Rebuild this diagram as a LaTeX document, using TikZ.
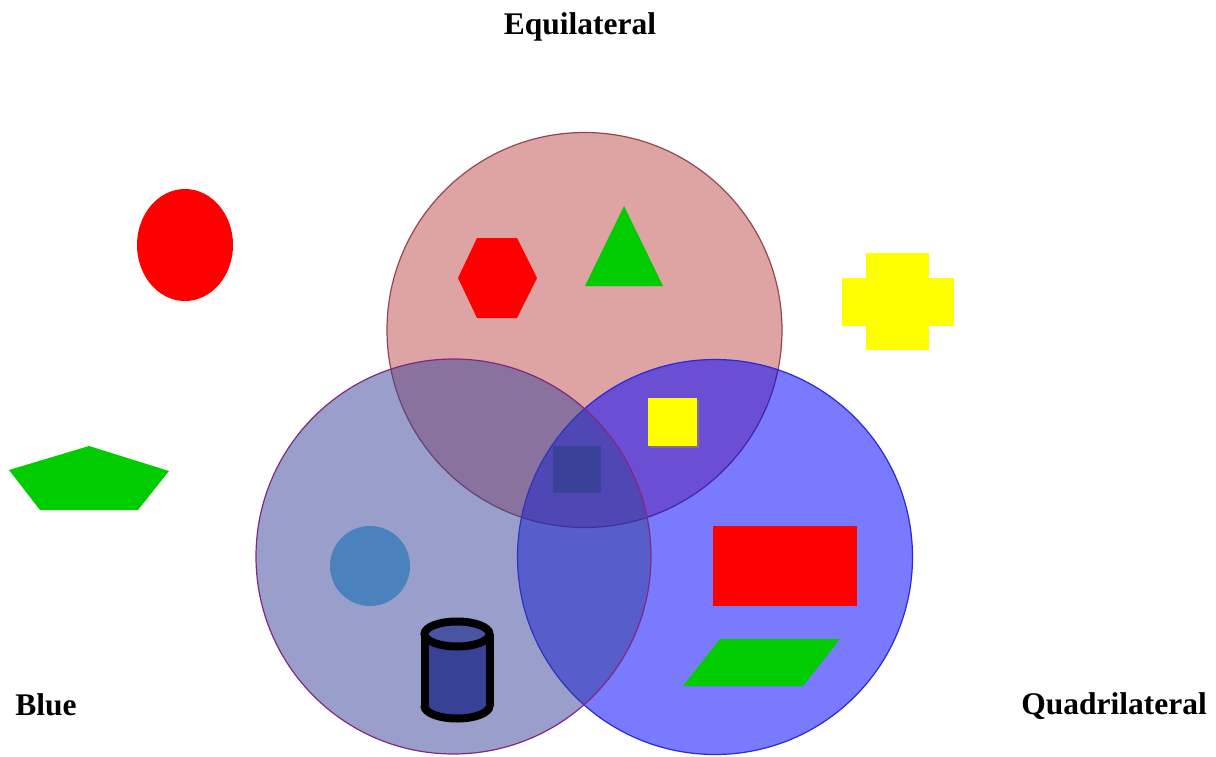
\documentclass[tikz,border=0pt]{standalone}
\usepackage{fontspec}
\setmainfont{Liberation Serif}
\begin{document}
\begin{tikzpicture}[x=1pt,y=-1pt,
  lbl/.style={font=\fontsize{31.5}{36}\selectfont\bfseries, inner sep=0pt, anchor=base},
  setred/.style={fill=cRed, fill opacity=0.5, draw=cRedB, line width=1.2},
  setleft/.style={fill=cLeft, fill opacity=0.5, draw=cLeftB, line width=1.2},
  setright/.style={fill=cRight, fill opacity=0.52, draw=cRightB, line width=1.2},
  cyl/.style={black, line width=8}]
\definecolor{cRed}{RGB}{191,75,75}
\definecolor{cRedB}{RGB}{150,70,80}
\definecolor{cLeft}{RGB}{53,65,151}
\definecolor{cLeftB}{RGB}{130,40,130}
\definecolor{cRight}{RGB}{0,0,255}
\definecolor{cRightB}{RGB}{40,40,220}
\definecolor{gShape}{RGB}{0,204,0}
\definecolor{rShape}{RGB}{255,0,0}
\definecolor{yShape}{RGB}{255,255,0}
\definecolor{dBlue}{RGB}{55,65,150}
\definecolor{lBlue}{RGB}{75,130,190}
\useasboundingbox (0,0) rectangle (1216,757);
\fill[white] (0,0) rectangle (1216,757);
% labels
\node[lbl] (equi) at (580,35) {Equilateral};
\node[lbl] (blue) at (46,715) {Blue};
\node[lbl] (quad) at (1114,714) {Quadrilateral};
% circles
\draw[setred] (584.5,330) circle (197.5);
\draw[setright] (715,557) circle (197.5);
\draw[setleft] (453.5,556.5) circle (197.5);
% outside shapes
\fill[rShape] (185,245) ellipse (48 and 56);
\fill[gShape] (9,470) -- (89,446) -- (169,471) -- (138,510) -- (40,510) -- cycle;
\fill[yShape] (866,253) rectangle (929,350);
\fill[yShape] (842,278) rectangle (954,326);
% equilateral
\fill[rShape] (458,278) -- (477,238) -- (517,238) -- (537,278) -- (517,318) -- (477,318) -- cycle;
\fill[gShape] (585,286) -- (624,206) -- (663,286) -- cycle;
% squares
\fill[black!60!yellow!60!brown, opacity=0.6] (649.5,399.5) rectangle (698.5,447.5);
\fill[yShape] (648,398) rectangle (697,446);
\fill[dBlue, opacity=0.9] (553,446) rectangle (601,493);
% blue circle
\fill[lBlue] (370,566) circle (40);
% cylinder
\fill[dBlue] (424.5,634) rectangle (489.5,706);
\fill[dBlue] (457,706) ellipse (32.5 and 12.5);
\draw[cyl] (424.5,634) -- (424.5,706);
\draw[cyl] (489.5,634) -- (489.5,706);
\begin{scope}
\clip (400,706) rectangle (520,730);
\draw[cyl] (457,706) ellipse (32.5 and 12.5);
\end{scope}
\filldraw[fill=dBlue!90!white, draw=black, line width=8] (457,634) ellipse (32.5 and 12.5);
% quadrilaterals
\fill[rShape] (713,526) rectangle (857,606);
\fill[gShape] (683,686) -- (720,639) -- (840,639) -- (803,686) -- cycle;
\end{tikzpicture}
\end{document}
